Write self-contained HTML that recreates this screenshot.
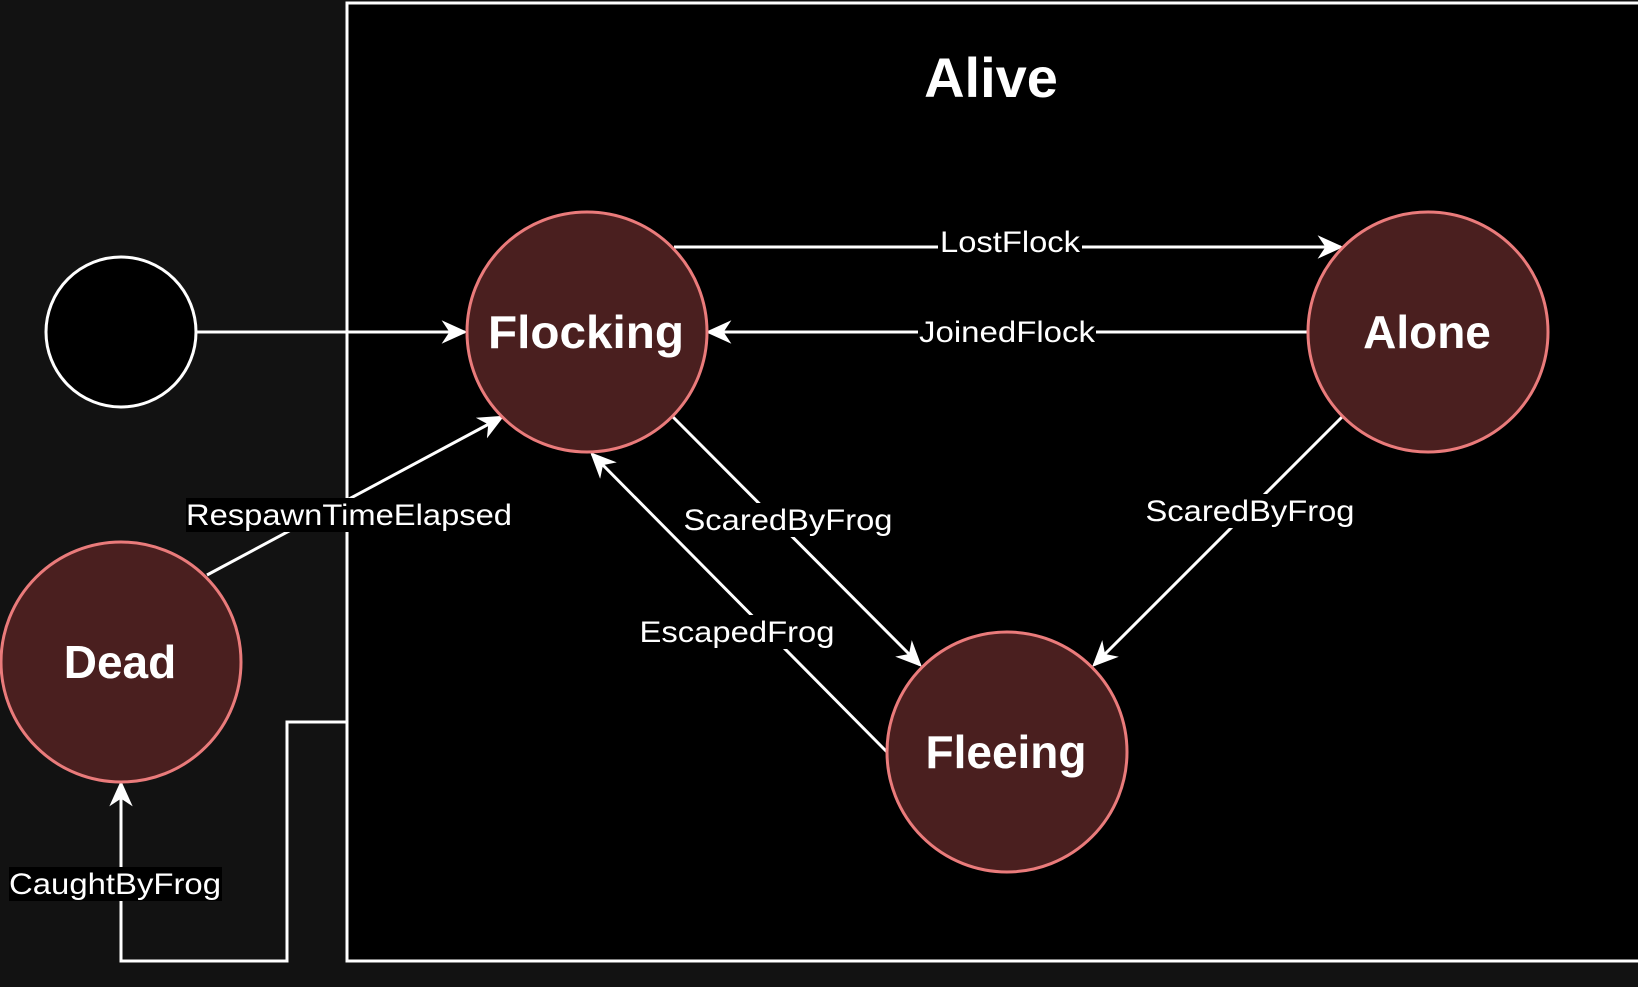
<!DOCTYPE html>
<html><head><meta charset="utf-8"><style>
html,body{margin:0;padding:0;background:#121212;}
svg{display:block;}
text{font-family:"Liberation Sans",Arial,sans-serif;}
</style></head><body>
<svg width="1638" height="987" viewBox="0 0 1638 987" xmlns="http://www.w3.org/2000/svg">
<defs>
<marker id="ar" viewBox="0 0 20 20" refX="18" refY="10" markerWidth="26" markerHeight="26" markerUnits="userSpaceOnUse" orient="auto">
<path d="M0,1 L20,10 L0,19 L6,10 Z" fill="#fff"/>
</marker>
</defs>
<rect x="0" y="0" width="1638" height="987" fill="#121212"/>
<rect x="347" y="3" width="1295" height="958" fill="#000" stroke="#fff" stroke-width="3"/>
<text x="991" y="97" font-size="56" font-weight="bold" fill="#fff" text-anchor="middle">Alive</text>

<g stroke="#fff" stroke-width="3" fill="none" marker-end="url(#ar)">
<line x1="196" y1="332" x2="465" y2="332"/>
<line x1="674" y1="247" x2="1341" y2="247"/>
<line x1="1307" y1="332" x2="708" y2="332"/>
<line x1="673" y1="417" x2="920" y2="665"/>
<line x1="1342" y1="417" x2="1094" y2="665"/>
<line x1="887" y1="752" x2="592" y2="454"/>
<line x1="207" y1="575" x2="502" y2="417"/>
<polyline points="346,722 287,722 287,961 121,961 121,783"/>
</g>

<circle cx="121" cy="332" r="75" fill="#000" stroke="#fff" stroke-width="3"/>
<g fill="#4a1f1f" stroke="#ea7b7b" stroke-width="3">
<circle cx="587" cy="332" r="120"/>
<circle cx="1428" cy="332" r="120"/>
<circle cx="1007" cy="752" r="120"/>
<circle cx="121" cy="662" r="120"/>
</g>
<g fill="#fff" font-size="46" font-weight="bold" text-anchor="middle">
<text x="586" y="348" textLength="196" lengthAdjust="spacingAndGlyphs">Flocking</text>
<text x="1427" y="348">Alone</text>
<text x="1006" y="768">Fleeing</text>
<text x="120" y="678">Dead</text>
</g>

<g font-size="30" fill="#fff" text-anchor="middle">
<rect x="938" y="224" width="144" height="34" fill="#000"/>
<text x="1010" y="252" textLength="140" lengthAdjust="spacingAndGlyphs">LostFlock</text>
<rect x="918" y="315" width="178" height="34" fill="#000"/>
<text x="1007" y="342" textLength="176" lengthAdjust="spacingAndGlyphs">JoinedFlock</text>
<rect x="682" y="503" width="212" height="34" fill="#000"/>
<text x="788" y="530" textLength="209" lengthAdjust="spacingAndGlyphs">ScaredByFrog</text>
<rect x="1145" y="494" width="212" height="34" fill="#000"/>
<text x="1250" y="521" textLength="209" lengthAdjust="spacingAndGlyphs">ScaredByFrog</text>
<rect x="638" y="615" width="198" height="34" fill="#000"/>
<text x="737" y="642" textLength="195" lengthAdjust="spacingAndGlyphs">EscapedFrog</text>
<rect x="186" y="498" width="326" height="34" fill="#000"/>
<text x="349" y="525" textLength="326" lengthAdjust="spacingAndGlyphs">RespawnTimeElapsed</text>
<rect x="9" y="867" width="213" height="34" fill="#000"/>
<text x="115" y="894" textLength="212" lengthAdjust="spacingAndGlyphs">CaughtByFrog</text>
</g>
</svg>
</body></html>
